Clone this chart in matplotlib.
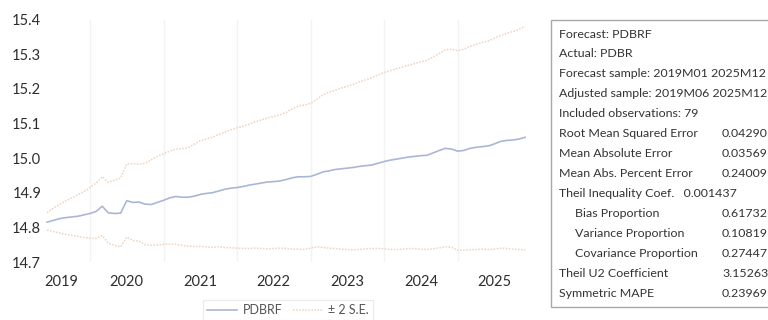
import matplotlib
matplotlib.use("Agg")
import matplotlib.pyplot as plt
from matplotlib.patches import Rectangle

plt.rcParams['font.family'] = ['Lato', 'DejaVu Sans']

# Monthly forecast path, 2019M06 .. 2025M12 (79 observations)
forecast = [
    14.815, 14.820, 14.825, 14.828, 14.830, 14.832, 14.836, 14.840, 14.846, 14.861,
    14.842, 14.840, 14.841, 14.877, 14.872, 14.873, 14.867, 14.866, 14.872, 14.878,
    14.885, 14.889, 14.887, 14.887, 14.890, 14.895, 14.898, 14.900, 14.905, 14.910,
    14.913, 14.915, 14.918, 14.922, 14.925, 14.928, 14.931, 14.932, 14.934, 14.938,
    14.943, 14.946, 14.946, 14.947, 14.953, 14.960, 14.963, 14.967, 14.969, 14.971,
    14.973, 14.976, 14.978, 14.980, 14.985, 14.990, 14.994, 14.997, 15.000, 15.003,
    15.005, 15.007, 15.008, 15.015, 15.022, 15.028, 15.026, 15.020, 15.022, 15.028,
    15.031, 15.033, 15.035, 15.041, 15.048, 15.051, 15.052, 15.055, 15.060,
]

upper_band = [
    14.842, 14.855, 14.866, 14.876, 14.885, 14.893, 14.903, 14.915, 14.928, 14.946,
    14.930, 14.936, 14.942, 14.983, 14.984, 14.982, 14.985, 14.995, 15.005, 15.012,
    15.020, 15.026, 15.027, 15.030, 15.040, 15.050, 15.055, 15.060, 15.068, 15.075,
    15.082, 15.087, 15.092, 15.098, 15.105, 15.110, 15.116, 15.120, 15.125, 15.132,
    15.142, 15.150, 15.153, 15.158, 15.170, 15.182, 15.190, 15.196, 15.202, 15.208,
    15.213, 15.220, 15.226, 15.232, 15.240, 15.247, 15.252, 15.258, 15.263, 15.268,
    15.273, 15.278, 15.282, 15.292, 15.302, 15.313, 15.314, 15.310, 15.314, 15.322,
    15.328, 15.334, 15.338, 15.346, 15.354, 15.360, 15.365, 15.372, 15.380,
]

lower_band = [
    14.792, 14.788, 14.784, 14.780, 14.777, 14.774, 14.771, 14.769, 14.768, 14.776,
    14.754, 14.748, 14.744, 14.772, 14.762, 14.760, 14.750, 14.748, 14.749, 14.751,
    14.752, 14.751, 14.748, 14.746, 14.745, 14.745, 14.744, 14.742, 14.744, 14.742,
    14.741, 14.740, 14.739, 14.739, 14.740, 14.739, 14.738, 14.739, 14.740, 14.739,
    14.737, 14.737, 14.736, 14.740, 14.744, 14.742, 14.740, 14.739, 14.737, 14.736,
    14.735, 14.736, 14.738, 14.739, 14.739, 14.738, 14.736, 14.736, 14.737, 14.739,
    14.738, 14.737, 14.736, 14.738, 14.741, 14.744, 14.742, 14.734, 14.734, 14.735,
    14.736, 14.737, 14.736, 14.737, 14.740, 14.739, 14.737, 14.736, 14.735,
]

year_labels = ['2019', '2020', '2021', '2022', '2023', '2024', '2025']
year_label_pos = [2.3, 13, 25, 37, 49, 61, 73]
year_starts = [7, 19, 31, 43, 55, 67]          # January of 2020 .. 2025
y_ticks = [14.7, 14.8, 14.9, 15.0, 15.1, 15.2, 15.3, 15.4]

stats_rows = [
    ("Forecast: PDBRF", None, 0),
    ("Actual: PDBR", None, 0),
    ("Forecast sample: 2019M01 2025M12", None, 0),
    ("Adjusted sample: 2019M06 2025M12", None, 0),
    ("Included observations: 79", None, 0),
    ("Root Mean Squared Error", "0.04290", 0),
    ("Mean Absolute Error", "0.03569", 0),
    ("Mean Abs. Percent Error", "0.24009", 0),
    ("Theil Inequality Coef.   0.001437", None, 0),
    ("Bias Proportion", "0.61732", 1),
    ("Variance Proportion", "0.10819", 1),
    ("Covariance Proportion", "0.27447", 1),
    ("Theil U2 Coefficient", "3.15263", 0),
    ("Symmetric MAPE", "0.23969", 0),
]

W, H = 768, 320
fig = plt.figure(figsize=(W / 100, H / 100), dpi=100)
fig.patch.set_facecolor('white')

ax = fig.add_axes([44 / W, (H - 262) / H, 486 / W, (262 - 19.5) / H])
idx = list(range(len(forecast)))

blue = '#a9b7d6'
band = '#f0d2bd'
ax.plot(idx, upper_band, color=band, lw=1.1, ls=(0, (1, 1)), label='± 2 S.E.')
ax.plot(idx, lower_band, color=band, lw=1.1, ls=(0, (1, 1)))
ax.plot(idx, forecast, color=blue, lw=1.2, label='PDBRF')

ax.set_xlim(-0.5, 78.8)
ax.set_ylim(14.7, 15.4)

ax.set_yticks(y_ticks)
ax.set_yticklabels([f"{v:.1f}" for v in y_ticks])
ax.set_xticks(year_label_pos)
ax.set_xticklabels(year_labels)
ax.set_xticks(year_starts, minor=True)
ax.tick_params(axis='both', which='both', length=0, labelsize=10.5, colors='#2e2e2e')
ax.tick_params(axis='x', pad=9)
ax.tick_params(axis='y', pad=2)
ax.grid(which='minor', axis='x', color='#f3f3f3', lw=1)
for s in ax.spines.values():
    s.set_visible(False)

handles, labels = ax.get_legend_handles_labels()
leg = fig.legend([handles[1], handles[0]], [labels[1], labels[0]],
                 loc='center', bbox_to_anchor=(288 / W, 1 - 310 / H),
                 ncol=2, frameon=True, fontsize=9, handlelength=2.4,
                 columnspacing=0.8, handletextpad=0.45, borderpad=0.3,
                 fancybox=False, labelcolor='#555555')
leg.get_frame().set_edgecolor('#e6e6e6')
leg.get_frame().set_linewidth(0.8)

# statistics panel
box = Rectangle((551 / W, 1 - 307 / H), 240 / W, (307 - 20) / H,
                transform=fig.transFigure, facecolor='white',
                edgecolor='#a8a8a8', lw=1.0, clip_on=False)
fig.patches.append(box)
for k, (label, value, indent) in enumerate(stats_rows):
    y = 1 - (34 + 19.95 * k) / H
    fig.text((559 + 16 * indent) / W, y, label, fontsize=8.9,
             color='#333333', va='center', ha='left')
    if value is not None:
        fig.text(722 / W, y, value, fontsize=8.9, color='#333333',
                 va='center', ha='left')

fig.savefig('out.png', dpi=100, facecolor='white')
